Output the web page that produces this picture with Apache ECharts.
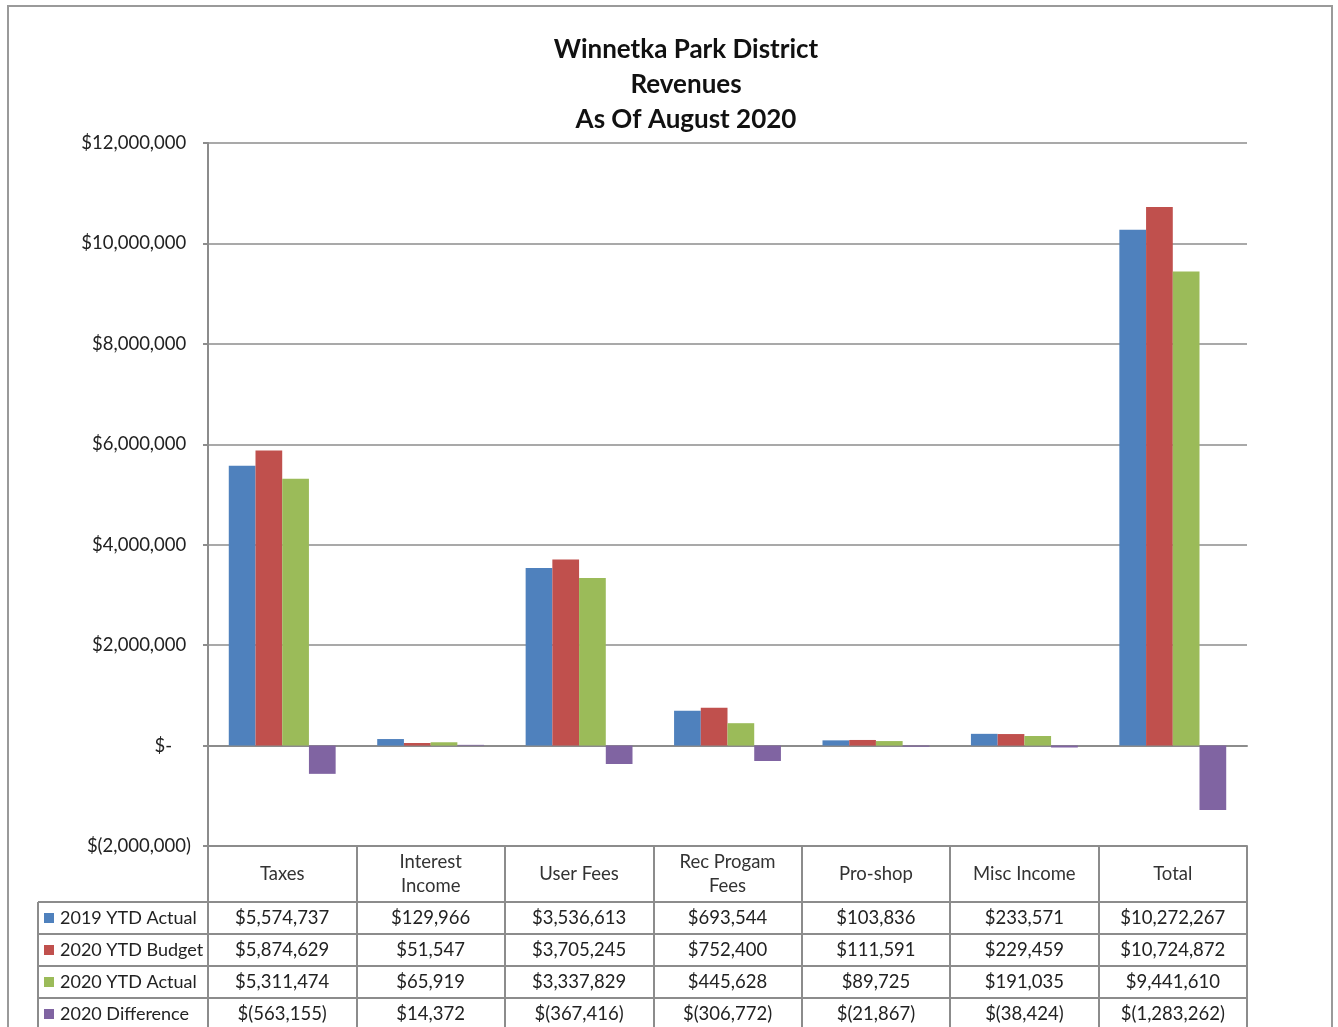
<!DOCTYPE html>
<html>
<head>
<meta charset="utf-8">
<script src="https://cdn.jsdelivr.net/npm/echarts@6/dist/echarts.min.js"></script>
<style>
html,body{margin:0;padding:0;background:#fff;}
#c{width:1338px;height:1027px;}
</style>
</head>
<body>
<div id="c"></div>
<script>
const categories = ['Taxes', 'Interest\nIncome', 'User Fees', 'Rec Progam\nFees', 'Pro-shop', 'Misc Income', 'Total'];
const seriesNames = ['2019 YTD Actual', '2020 YTD Budget', '2020 YTD Actual', '2020 Difference'];
const actual2019 = [5574737, 129966, 3536613, 693544, 103836, 233571, 10272267];
const budget2020 = [5874629, 51547, 3705245, 752400, 111591, 229459, 10724872];
const actual2020 = [5311474, 65919, 3337829, 445628, 89725, 191035, 9441610];
const diff2020 = [-563155, 14372, -367416, -306772, -21867, -38424, -1283262];
const colors = ['#4f81bd', '#c0504d', '#9bbb59', '#8064a2'];
const yMin = -2000000, yMax = 12000000, yStep = 2000000;

const allSeries = [actual2019, budget2020, actual2020, diff2020];

function money(v) {
  const s = Math.abs(v).toLocaleString('en-US');
  return v < 0 ? '$(' + s + ')' : '$' + s;
}
function axisMoney(v) {
  if (v === 0) return '$-    ';
  return v < 0 ? '$(' + Math.abs(v).toLocaleString('en-US') + ')' : '$' + v.toLocaleString('en-US') + ' ';
}

const FONT = 'Lato';
const FS = 18.5;
const GRID = {left: 208, right: 91, top: 143, bottom: 181};
const HEADER_H = 56, ROW_H = 32;
const lineGray = '#8c8c8c';
const chart = echarts.init(document.getElementById('c'));

const xAxes = [
  {
    type: 'category', data: categories, gridIndex: 0,
    axisLine: {onZero: true, lineStyle: {color: lineGray, width: 2}},
    axisTick: {show: false}, axisLabel: {show: false}
  },
  {
    type: 'category', data: categories, position: 'bottom', offset: 0,
    axisLine: {onZero: false, lineStyle: {color: lineGray, width: 2}},
    axisTick: {show: true, interval: 0, length: HEADER_H + ROW_H * 5, lineStyle: {color: lineGray, width: 2}},
    axisLabel: {interval: 0, margin: HEADER_H / 2, verticalAlign: 'middle', align: 'center',
      fontFamily: FONT, fontSize: FS, lineHeight: 24, color: '#333'}
  }
];
allSeries.forEach((arr, i) => {
  xAxes.push({
    type: 'category', data: categories, position: 'bottom', offset: HEADER_H + ROW_H * i,
    axisLine: {onZero: false, lineStyle: {color: lineGray, width: 2}},
    axisTick: {show: false},
    axisLabel: {interval: 0, margin: ROW_H / 2, verticalAlign: 'middle', align: 'center',
      fontFamily: FONT, fontSize: FS, color: '#222',
      formatter: (val, idx) => money(arr[idx])}
  });
});

const leftX = 38;
const graphics = [
  {type: 'rect', shape: {x: 8, y: 6, width: 1324, height: 1100}, style: {fill: 'none', stroke: '#9a9a9a', lineWidth: 2}, silent: true}
];
const tableTop = 1027 - GRID.bottom + HEADER_H;
graphics.push({type: 'line', shape: {x1: leftX, y1: tableTop, x2: leftX, y2: 1100}, style: {stroke: lineGray, lineWidth: 2}});
for (let i = 0; i < 4; i++) {
  graphics.push({type: 'line', shape: {x1: leftX, y1: tableTop + ROW_H * i, x2: GRID.left, y2: tableTop + ROW_H * i}, style: {stroke: lineGray, lineWidth: 2}});
}

chart.setOption({
  backgroundColor: '#fff',
  animation: false,
  title: {
    text: 'Winnetka Park District\nRevenues\nAs Of August 2020',
    left: 681, top: 27, textAlign: 'center',
    textStyle: {fontFamily: FONT, fontWeight: 'bold', fontSize: 26, lineHeight: 35, color: '#111'}
  },
  legend: {
    data: seriesNames, orient: 'vertical', left: 44, top: tableTop + 6, padding: 0,
    itemWidth: 10, itemHeight: 10, itemGap: 12, icon: 'rect',
    textStyle: {fontFamily: FONT, fontSize: 18, lineHeight: 20, color: '#222', padding: [0, 0, 0, 1]}
  },
  grid: GRID,
  xAxis: xAxes,
  yAxis: {
    type: 'value', min: yMin, max: yMax, interval: yStep,
    axisLine: {show: true, lineStyle: {color: lineGray, width: 2}},
    axisTick: {show: true, length: 5, lineStyle: {color: lineGray, width: 2}},
    splitLine: {show: true, lineStyle: {color: lineGray, width: 1.5}},
    axisLabel: {margin: 17, fontFamily: FONT, fontSize: FS, color: '#222', formatter: axisMoney}
  },
  series: allSeries.map((arr, i) => ({
    name: seriesNames[i], type: 'bar', data: arr, xAxisIndex: 0,
    barGap: '0%', barCategoryGap: '28%',
    itemStyle: {color: colors[i]}
  })),
  graphic: graphics
});
</script>
</body>
</html>
